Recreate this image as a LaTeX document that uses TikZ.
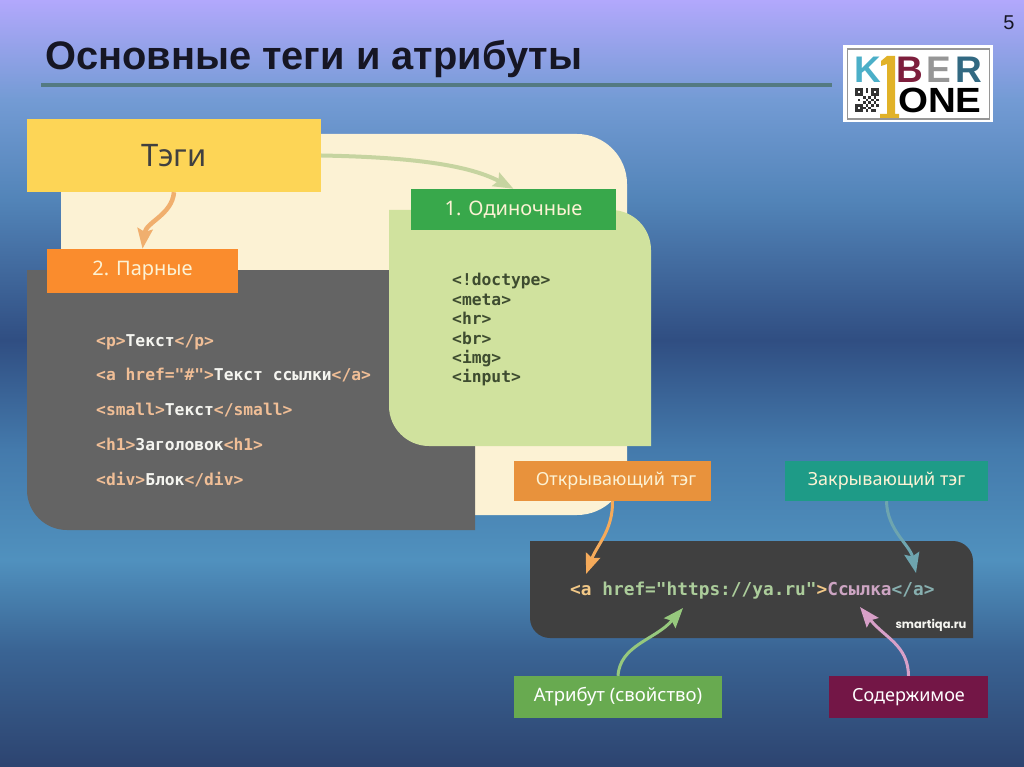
\documentclass[tikz,border=0pt]{standalone}
\usepackage{fontspec}
\setmainfont{Liberation Sans}
\setmonofont{DejaVu Sans Mono}
\newfontfamily\labelfont{Noto Sans}
\newfontfamily\sitefont{Poppins}
\usetikzlibrary{arrows.meta}
\definecolor{SkyA}{RGB}{178,168,252}
\definecolor{SkyB}{RGB}{115,155,212}
\definecolor{SkyC}{RGB}{82,132,184}
\definecolor{SkyD}{RGB}{48,78,130}
\definecolor{SkyE}{RGB}{68,122,172}
\definecolor{SkyF}{RGB}{80,145,190}
\definecolor{SkyG}{RGB}{58,100,148}
\definecolor{SkyH}{RGB}{45,68,112}
\definecolor{RuleTeal}{RGB}{84,122,130}
\definecolor{CreamBack}{RGB}{252,242,212}
\definecolor{PanelGrey}{RGB}{100,100,100}
\definecolor{PanelGreen}{RGB}{208,226,158}
\definecolor{CodeDark}{RGB}{64,64,64}
\definecolor{TagsYellow}{RGB}{253,213,86}
\definecolor{PairOrange}{RGB}{250,140,45}
\definecolor{SingleGreen}{RGB}{56,168,75}
\definecolor{OpenOrange}{RGB}{232,146,60}
\definecolor{CloseTeal}{RGB}{30,155,135}
\definecolor{AttrGreen}{RGB}{104,170,80}
\definecolor{ContentWine}{RGB}{115,22,70}
\definecolor{TagPeach}{RGB}{240,190,150}
\definecolor{CodeWhite}{RGB}{245,245,240}
\definecolor{CodeInk}{RGB}{62,76,48}
\definecolor{SynOrange}{RGB}{242,200,135}
\definecolor{SynGreen}{RGB}{172,205,155}
\definecolor{SynPink}{RGB}{205,165,195}
\definecolor{SynTeal}{RGB}{135,175,175}
\definecolor{LogoCyan}{RGB}{75,175,200}
\definecolor{LogoGold}{RGB}{225,178,40}
\definecolor{LogoWine}{RGB}{125,30,60}
\definecolor{LogoGrey}{RGB}{150,150,150}
\definecolor{LogoTeal}{RGB}{50,105,130}
\definecolor{TitleInk}{RGB}{22,22,36}
\definecolor{ArrowOrange}{RGB}{240,175,110}
\definecolor{ArrowLime}{RGB}{198,212,160}
\definecolor{ArrowOpen}{RGB}{245,170,90}
\definecolor{ArrowClose}{RGB}{110,165,175}
\definecolor{ArrowAttr}{RGB}{150,200,125}
\definecolor{ArrowContent}{RGB}{215,160,200}
\newcommand{\tagp}[1]{\textcolor{TagPeach}{#1}}
\tikzset{
  slide/box/.style={
    inner sep=0pt, font=\labelfont\fontsize{18}{22}\selectfont, text=white, align=center
  },
  slide/code/.style={
    inner sep=0pt, anchor=west, align=left, font=\ttfamily\bfseries
  },
  slide/arrow/.style={
    -{Stealth[length=20pt,width=15pt,inset=3pt]}, line width=3pt
  },
  slide/logo/.style={
    inner sep=0pt, anchor=base west, font=\bfseries\fontsize{37}{37}\selectfont
  }
}
\begin{document}
\begin{tikzpicture}[x=1pt,y=-1pt]
  \useasboundingbox (0,0) rectangle (1024,767);
  \foreach \ya/\yb/\ca/\cb in {0/100/SkyA/SkyB,100/200/SkyB/SkyC,200/340/SkyC/SkyD,340/450/SkyD/SkyE,450/560/SkyE/SkyF,560/650/SkyF/SkyG,650/767/SkyG/SkyH}
    \shade[top color=\ca,bottom color=\cb] (0,\ya) rectangle (1024,\yb);

  \node[anchor=west,inner sep=0pt,font=\bfseries\fontsize{39.8}{44}\selectfont,text=TitleInk] (title) at (45,59) {Основные теги и атрибуты};
  \fill[RuleTeal] (41,83) rectangle (832,87);
  \node[inner sep=0pt,font=\fontsize{20}{24}\selectfont,text=TitleInk] (pagenum) at (1009,23) {5};

  \fill[white] (843,45) rectangle (993,122);
  \draw[LogoGrey,line width=1.6pt] (847.5,49) rectangle (989.5,119);
  \node[slide/logo,text=LogoCyan] (logok) at (854,83) {K};
  \node[slide/logo,text=LogoWine] (logob) at (896,83) {B};
  \node[slide/logo,text=LogoGrey] (logoe) at (926,83) {E};
  \node[slide/logo,text=LogoTeal] (logor) at (955,83) {R};
  \fill[LogoGold] (887,56) -- (895,56) -- (895,114) -- (899,114) -- (899,118) -- (880,118) -- (880,114) -- (887,114) -- (887,64) -- (881,66) -- (881,61) -- cycle;
  \node[slide/logo,text=black,font=\bfseries\fontsize{35}{35}\selectfont,xscale=1.1] (logoone) at (898,113) {ONE};
  \foreach \cx/\cy in {0/0,1/0,2/0,0/1,2/1,0/2,1/2,2/2,6/0,7/0,8/0,6/1,8/1,6/2,7/2,8/2,0/6,1/6,2/6,0/7,2/7,0/8,1/8,2/8,4/0,4/1,3/3,5/3,7/3,1/4,4/4,6/4,8/4,3/5,5/5,7/5,4/6,6/6,8/6,3/7,5/7,4/8,6/8,7/8}
    \fill[black!80] (855+\cx*2.67,88+\cy*2.67) rectangle ++(2.67,2.67);

  \fill[CreamBack,rounded corners=50pt] (61,134) -- (627,134) -- (627,515) -- (61,515) -- cycle;
  \fill[PanelGrey] (27,270) -- (475,270) -- (475,530) [rounded corners=40pt] -- (27,530) [sharp corners] -- (27,270) -- cycle;
  \fill[PanelGreen] (389,210) [rounded corners=40pt] -- (651,210) -- (651,446) [sharp corners] -- (651,446) [rounded corners=40pt] -- (389,446) [sharp corners] -- (389,210) -- cycle;
  \fill[CodeDark] (530,541) [rounded corners=20pt] -- (973,541) [sharp corners] -- (973,638) [rounded corners=20pt] -- (530,638) [sharp corners] -- cycle;

  \node[slide/box,fill=TagsYellow,minimum width=294pt,minimum height=73pt,text=black!75,font=\labelfont\fontsize{31}{36}\selectfont] (tags) at (174,155.5) {Тэги};
  \node[slide/box,fill=PairOrange,minimum width=191pt,minimum height=44pt,text=CreamBack,font=\labelfont\fontsize{20}{24}\selectfont] (pair) at (142.5,271) {2. Парные};
  \node[slide/box,fill=SingleGreen,minimum width=205pt,minimum height=41pt,text=CreamBack,font=\labelfont\fontsize{20}{24}\selectfont] (single) at (513.5,209.5) {1. Одиночные};

  \node[slide/code,text=CodeWhite,font=\ttfamily\bfseries\fontsize{16.3}{34.7}\selectfont] (pairlist) at (96,410.5) {\tagp{<p>}Текст\tagp{</p>}\\
    \tagp{<a href="\#">}Текст ссылки\tagp{</a>}\\
    \tagp{<small>}Текст\tagp{</small>}\\
    \tagp{<h1>}Заголовок\tagp{<h1>}\\
    \tagp{<div>}Блок\tagp{</div>}};
  \node[slide/code,text=CodeInk,font=\ttfamily\bfseries\fontsize{16.3}{19.4}\selectfont] (singlelist) at (452,330) {<!doctype>\\<meta>\\<hr>\\<br>\\<img>\\<input>};
  \node[slide/code,font=\ttfamily\bfseries\fontsize{17.8}{22}\selectfont] (sample) at (570,590.5) {\textcolor{SynOrange}{<a} \textcolor{SynGreen}{href="https://ya.ru"}\textcolor{SynOrange}{>}\textcolor{SynPink}{Ссылка}\textcolor{SynTeal}{</a>}};
  \node[inner sep=0pt,font=\sitefont\bfseries\fontsize{11.5}{14}\selectfont,text=CodeWhite] (site) at (931,625) {smartiqa.ru};

  \node[slide/box,fill=OpenOrange,minimum width=197pt,minimum height=40pt,text=CreamBack,text width=197pt] (open) at (612.5,481) {\hspace*{7pt}Открывающий тэг};
  \node[slide/box,fill=CloseTeal,minimum width=203pt,minimum height=40pt,text=CreamBack] (close) at (886.5,481) {Закрывающий тэг};
  \node[slide/box,fill=AttrGreen,minimum width=208pt,minimum height=42pt,font=\labelfont\fontsize{18.5}{22}\selectfont] (attr) at (618,697) {Атрибут (свойство)};
  \node[slide/box,fill=ContentWine,minimum width=159pt,minimum height=42pt] (content) at (908.5,697) {Содержимое};

  \coordinate (opentip) at (586,574);
  \coordinate (closetip) at (916,573);
  \coordinate (attrtip) at (683,608);
  \coordinate (contenttip) at (860,607);

  \draw[slide/arrow,draw=ArrowOrange,line width=4.5pt] (tags.south) .. controls (172,215) and (146,222) .. (pair.north);
  \draw[slide/arrow,draw=ArrowLime,line width=4pt] (tags.east) .. controls (400,157) and (465,163) .. (single.north);
  \draw[slide/arrow,draw=ArrowOpen] (open.south) .. controls (613,530) and (597,545) .. (opentip);
  \draw[slide/arrow,draw=ArrowClose] (close.south) .. controls (887,530) and (910,545) .. (closetip);
  \draw[slide/arrow,draw=ArrowAttr] (attr.north) .. controls (620,645) and (655,640) .. (attrtip);
  \draw[slide/arrow,draw=ArrowContent] (content.north) .. controls (908,645) and (885,638) .. (contenttip);
\end{tikzpicture}
\end{document}
